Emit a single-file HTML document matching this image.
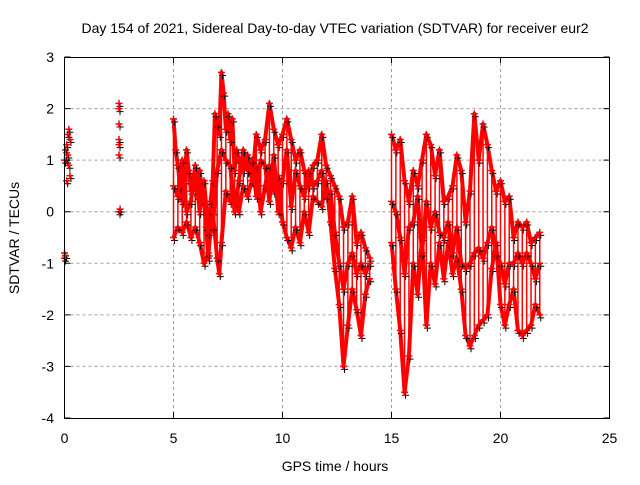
<!DOCTYPE html>
<html><head><meta charset="utf-8"><style>
body{margin:0;background:#fff;width:640px;height:480px;overflow:hidden}
svg text{font-family:"Liberation Sans",sans-serif;font-size:14px;fill:#000}
</style></head><body>
<svg id="chart" width="640" height="480" viewBox="0 0 640 480">
<text x="335" y="33" text-anchor="middle">Day 154 of 2021, Sidereal Day-to-day VTEC variation (SDTVAR) for receiver eur2</text>
<g id="grid"></g>
<g id="marks"></g>
<rect x="64.5" y="57.5" width="545" height="361" fill="none" stroke="#000" stroke-width="1"/>
<g id="axes"></g>
<text x="335" y="471" text-anchor="middle">GPS time / hours</text>
<text transform="translate(19,238) rotate(-90)" text-anchor="middle">SDTVAR / TECUs</text>
</svg>
<script>
const xTicks=[0,5,10,15,20,25];
const yTicks=[-4,-3,-2,-1,0,1,2,3];
const earlyT=[0.0,0.0,0.05,0.1,0.15,0.2,0.25,0.2,0.1,0.25,0.0,0.05,0.15,0.1,2.5,2.5,2.5,2.5,2.5,2.55,2.5,2.5];
const earlyV=[-0.9,-0.8,1.2,1.0,1.5,1.6,0.7,0.9,1.3,1.4,1.0,-0.85,1.1,0.6,2.1,2.0,1.4,1.1,0.0,0.05,1.3,1.7];
const trackAT=[5.0,5.1,5.2,5.3,5.4,5.5,5.6,5.7,5.8,5.9,6.0,6.1,6.2,6.3,6.4,6.5,6.6,6.7,6.8,6.9,7.0,7.1,7.2,7.3,7.4,7.5,7.6,7.7,7.8,7.9,8.0,8.2,8.4,8.6,8.8,9.0,9.2,9.4,9.6,9.8,10.0,10.2,10.4,10.6,10.8,11.0,11.2,11.4,11.6,11.8,12.0,12.2,12.4,12.6,12.8,13.0,13.2,13.4,13.6,13.8,14.0];
const trackAV=[1.8,1.2,0.9,0.5,0.2,0.6,1.2,0.8,0.4,0.7,0.5,0.3,0.8,0.4,0.2,-0.3,-0.9,0.2,0.6,1.9,1.7,1.5,2.7,2.3,1.6,1.9,1.4,1.8,0.8,1.2,1.0,0.8,1.1,0.6,1.5,1.2,1.4,2.1,1.6,1.3,1.5,1.8,1.4,1.0,1.2,0.8,0.5,0.9,1.0,1.5,0.9,0.7,0.5,0.3,-0.3,-0.2,0.3,-0.6,-0.4,-0.7,-0.9];
const trackA2T=[15.0,15.2,15.4,15.6,15.8,16.0,16.2,16.4,16.6,16.8,17.0,17.2,17.4,17.6,17.8,18.0,18.2,18.4,18.6,18.8,19.0,19.2,19.4,19.6,19.8,20.0,20.2,20.4,20.6,20.8,21.0,21.2,21.4,21.6,21.8];
const trackA2V=[1.5,1.2,1.4,0.6,0.2,0.8,0.5,1.0,1.5,1.3,0.7,1.2,0.2,0.3,0.5,1.1,0.8,-0.2,0.4,1.9,1.0,1.7,1.3,0.8,0.4,0.6,0.2,0.3,-0.5,-0.2,-0.3,-0.2,-0.6,-0.5,-0.4];
const trackBT=[5.0,5.2,5.4,5.6,5.8,6.0,6.2,6.4,6.6,6.8,7.0,7.1,7.2,7.4,7.6,7.8,8.0,8.2,8.4,8.6,8.8,9.0,9.2,9.4,9.6,9.8,10.0,10.2,10.4,10.6,10.8,11.0,11.2,11.4,11.6,11.8,12.0,12.2,12.4,12.6,12.8,13.0,13.2,13.4,13.6,13.8,14.0];
const trackBV=[-0.5,-0.3,-0.4,-0.2,-0.5,-0.3,-0.6,-1.0,-0.8,0.0,-0.9,-1.2,-0.6,0.4,0.2,0.4,0.0,0.5,0.3,0.6,0.9,0.0,0.5,0.9,0.4,0.7,-0.2,-0.5,-0.7,-0.3,-0.6,0.0,-0.4,0.3,0.2,0.1,0.6,-0.2,-1.1,-1.8,-3.0,-2.2,-1.5,-1.9,-2.4,-1.6,-1.3];
const trackB2T=[15.0,15.2,15.4,15.6,15.8,16.0,16.2,16.4,16.6,16.8,17.0,17.2,17.4,17.6,17.8,18.0,18.2,18.4,18.6,18.8,19.0,19.2,19.4,19.6,19.8,20.0,20.2,20.4,20.6,20.8,21.0,21.2,21.4,21.6,21.8];
const trackB2V=[-0.6,-1.5,-2.3,-3.5,-2.8,-1.0,-1.6,-0.5,-2.2,-1.0,-1.4,-0.6,-1.3,-0.6,-1.2,-0.9,-1.5,-2.4,-2.6,-2.4,-2.2,-2.1,-2.0,-1.1,-0.6,-1.8,-2.2,-1.8,-1.5,-2.3,-2.4,-2.3,-2.2,-1.8,-2.0];
const trackCT=[5.0,5.2,5.4,5.6,5.8,6.0,6.2,6.4,6.6,6.8,7.0,7.2,7.4,7.6,7.8,8.0,8.2,8.4,8.6,8.8,9.0,9.2,9.4,9.6,9.8,10.0,10.2,10.4,10.6,10.8,11.0,11.2,11.4,11.6,11.8,12.0,12.2,12.4,12.6,12.8,13.0,13.2,13.4,13.6,13.8,14.0];
const trackCV=[0.5,0.3,1.0,0.0,0.2,0.9,0.0,0.6,-0.4,-0.3,0.8,1.2,1.0,0.9,0.0,0.6,1.2,0.8,1.0,0.3,1.0,0.9,0.2,1.1,0.0,0.6,1.2,0.1,0.8,0.5,0.3,0.8,0.5,0.6,0.8,0.3,0.4,-0.4,-1.0,-1.5,-1.0,-0.8,-1.2,-1.0,-1.2,-1.0];
const trackC2T=[15.0,15.2,15.4,15.6,15.8,16.0,16.2,16.4,16.6,16.8,17.0,17.2,17.4,17.6,17.8,18.0,18.2,18.4,18.6,18.8,19.0,19.2,19.4,19.6,19.8,20.0,20.2,20.4,20.6,20.8,21.0,21.2,21.4,21.6,21.8];
const trackC2V=[0.2,0.0,-0.5,-1.2,-0.3,-0.2,0.3,-0.8,0.2,-0.3,0.0,-0.4,-0.5,-0.2,-0.8,-0.3,-1.0,-1.1,-1.0,-0.8,-0.7,-0.9,-0.6,-0.3,-0.8,-1.0,-1.4,-1.0,-1.0,-0.8,-1.0,-0.8,-1.0,-1.3,-1.0];

const X0=64.5,X1=609.5,Y0=418,Y1=57;
const xs=t=>X0+(t-0)/(25-0)*(X1-X0);
const ys=v=>Y0-(v+4)/(3+4)*(Y0-Y1);
const NS='http://www.w3.org/2000/svg';
const grid=document.getElementById('grid'),axes=document.getElementById('axes'),marks=document.getElementById('marks');
function mk(tag,a){const e=document.createElementNS(NS,tag);for(const k in a)e.setAttribute(k,a[k]);return e;}
xTicks.forEach(t=>{const x=xs(t);
 if(t>0&&t<25){const g=mk('line',{x1:x,x2:x,y1:Y1,y2:Y0,stroke:'#a0a0a0','stroke-dasharray':'3,3'});grid.appendChild(g);}
 const tk=mk('path',{d:`M${x},${Y0}v-6M${x},${Y1}v6`,stroke:'#000'});axes.appendChild(tk);
 const l=mk('text',{x:x,y:443,'text-anchor':'middle'});l.textContent=t;axes.appendChild(l);});
yTicks.forEach(v=>{const y=ys(v);
 if(v>-4&&v<3){const g=mk('line',{x1:X0,x2:X1,y1:y,y2:y,stroke:'#a0a0a0','stroke-dasharray':'3,3'});grid.appendChild(g);}
 const tk=mk('path',{d:`M${X0},${y}h6M${X1},${y}h-6`,stroke:'#000'});axes.appendChild(tk);
 const l=mk('text',{x:54,y:y+5,'text-anchor':'end'});l.textContent=v;axes.appendChild(l);});
function spread(groups){const T=groups[0][0];T.forEach((t,i)=>{const vals=groups.map(g=>{const j=g[0].indexOf(t);return j>=0?g[1][j]:null;}).filter(v=>v!==null);
 const lo=Math.min(...vals),hi=Math.max(...vals);
 const s=mk('line',{x1:xs(t),x2:xs(t),y1:ys(lo),y2:ys(hi),stroke:'#ff0000','stroke-width':1.5});
 marks.appendChild(s);});}
spread([[trackCT,trackCV],[trackAT,trackAV],[trackBT,trackBV]]);
spread([[trackC2T,trackC2V],[trackA2T,trackA2V],[trackB2T,trackB2V]]);
const tracks=[[earlyT,earlyV,false],[trackAT,trackAV,true],[trackA2T,trackA2V,true],[trackBT,trackBV,true],[trackB2T,trackB2V,true],[trackCT,trackCV,true],[trackC2T,trackC2V,true]];
tracks.forEach(([T,V,line])=>{
 if(line){const p=mk('polyline',{points:T.map((t,i)=>xs(t)+','+ys(V[i])).join(' '),fill:'none',stroke:'#ff0000','stroke-width':4,'stroke-linejoin':'round'});marks.appendChild(p);}
 T.forEach((t,i)=>{const x=xs(t),y=ys(V[i]);
  const b=mk('path',{d:`M${x-2.5},${y+3}h7M${x+1},${y-0.5}v7`,stroke:'#000','stroke-width':1});marks.appendChild(b);
  const r=mk('path',{d:`M${x-3.5},${y}h7M${x},${y-3.5}v7`,stroke:'#ff0000','stroke-width':1.5});marks.appendChild(r);});
});
</script>
</body></html>
